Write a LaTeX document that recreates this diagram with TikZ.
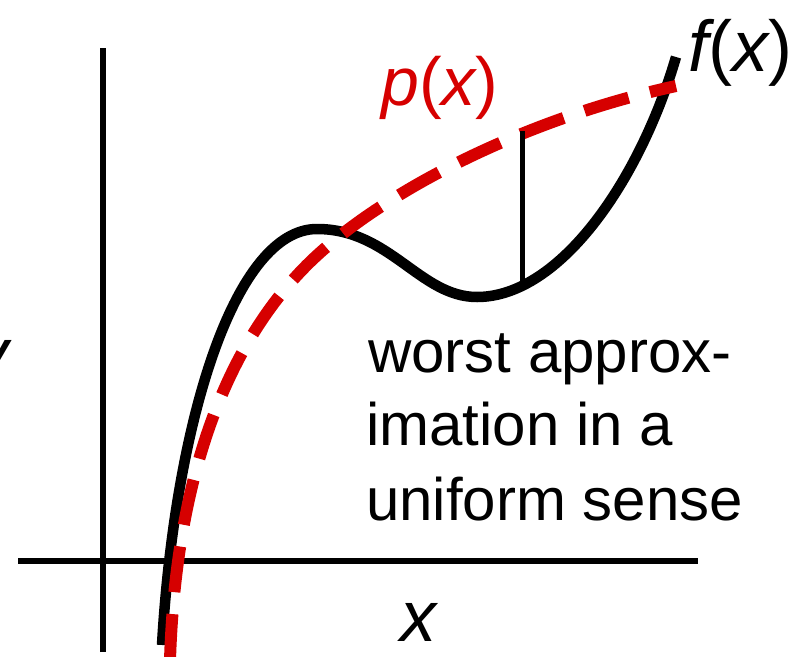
\documentclass[tikz,border=0pt]{standalone}
\usepackage{fontspec}
\setmainfont{Liberation Sans}
\definecolor{pred}{RGB}{214,0,0}
\begin{document}
\begin{tikzpicture}[x=1pt,y=-1pt,
  axis/.style={line width=6pt},
  fcurve/.style={line width=10.5pt},
  pcurve/.style={line width=12pt, pred, dash pattern=on 46pt off 22pt},
  errline/.style={line width=5pt},
  txt/.style={inner sep=0pt, anchor=base west, font=\fontsize{60}{74}\selectfont},
  ilbl/.style={inner sep=0pt, anchor=base west, font=\fontsize{72}{80}\selectfont}
]
\useasboundingbox (0,0) rectangle (800,656);
% axes
\coordinate (yb) at (103,652);
\coordinate (yt) at (103,48);
\coordinate (xl) at (18,561);
\coordinate (xr) at (698,561);
\draw[axis] (yb) -- (yt);
\draw[axis] (xl) -- (xr);
% f(x)
\coordinate (f0) at (162,645);
\coordinate (f1) at (317,229);
\coordinate (f2) at (477,297);
\coordinate (f3) at (676,57);
\draw[fcurve] (f0) .. controls (175,420) and (235,229) .. (f1)
  .. controls (390,229) and (420,297) .. (f2)
  .. controls (560,297) and (640,180) .. (f3);
% p(x)
\coordinate (p0) at (170,660);
\coordinate (p1) at (310,262);
\coordinate (p2) at (676,86);
\draw[pcurve] (p0) .. controls (176,470) and (230,340) .. (p1)
  .. controls (380,194) and (520,120) .. (p2);
% error line
\coordinate (et) at (522,131);
\coordinate (eb) at (522,284);
\draw[errline] (et) -- (eb);
% labels
\node[ilbl] (fx) at (688,71) {{\itshape f}({\itshape x})};
\node[ilbl, font=\fontsize{68}{80}\selectfont, text=pred] (px) at (381,105) {{\itshape p}({\itshape x})};
\node[ilbl] (xlab) at (400,641) {\itshape x};
\node[ilbl] (ylab) at (-28,378) {\itshape y};
\node[txt] (t1) at (368,372) {worst approx-};
\node[txt] (t2) at (366,445) {imation in a};
\node[txt] (t3) at (366,520) {uniform sense};
\end{tikzpicture}
\end{document}
